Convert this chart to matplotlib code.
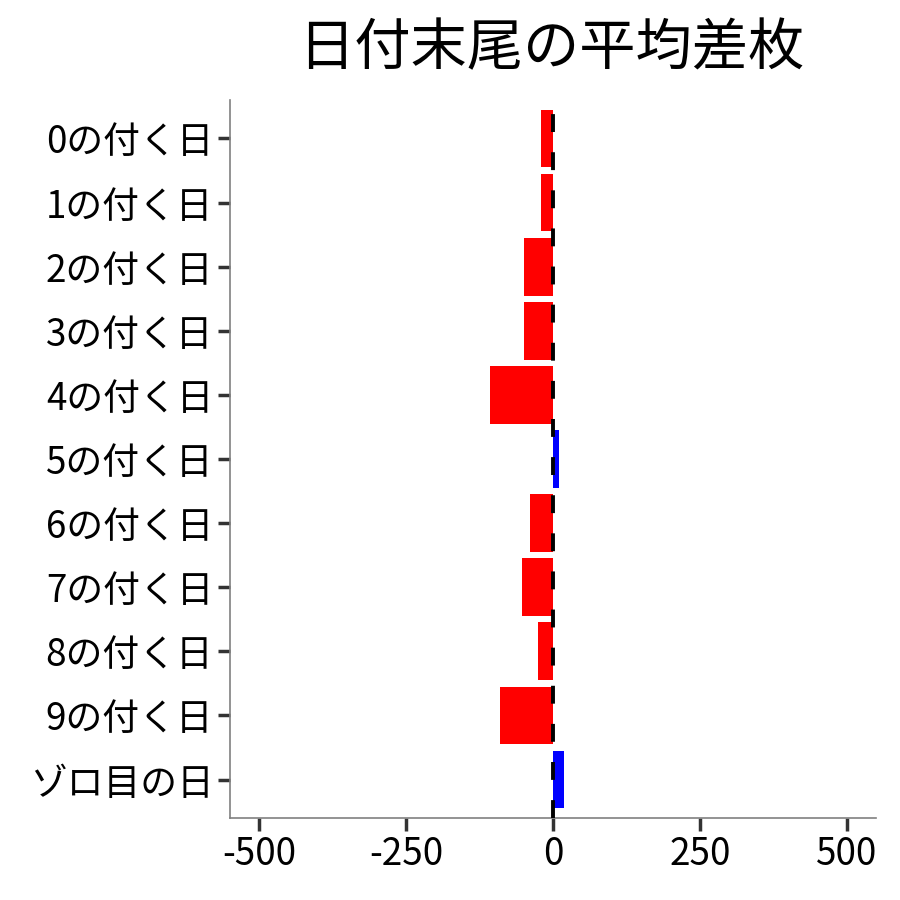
import matplotlib
matplotlib.use("Agg")
import matplotlib.pyplot as plt

plt.rcParams["font.family"] = ["Noto Sans CJK JP", "DejaVu Sans"]

categories = ["0の付く日", "1の付く日", "2の付く日", "3の付く日", "4の付く日",
              "5の付く日", "6の付く日", "7の付く日", "8の付く日", "9の付く日",
              "ゾロ目の日"]
avg_diff = [-20, -21, -50, -50, -107, 10, -40, -52, -25, -90, 19]
x_ticks = [-500, -250, 0, 250, 500]

colors = ["#0000FF" if v > 0 else "#FF0000" for v in avg_diff]
positions = list(range(len(categories)))

fig = plt.figure(figsize=(9, 9), dpi=100)
ax = fig.add_axes([0.2556, 0.0911, 0.7177, 0.7978])

ax.barh(positions, avg_diff, height=0.9, color=colors, zorder=2)
ax.axvline(0, color="black", linewidth=2.8, linestyle=(0, (4.6, 5.2)), zorder=3)

ax.set_xlim(-550, 550)
ax.set_ylim(len(categories) - 0.4, -0.6)
ax.set_xticks(x_ticks)
ax.set_xticklabels([str(t) for t in x_ticks])
ax.set_yticks(positions)
ax.set_yticklabels(categories)

for side in ["top", "right"]:
    ax.spines[side].set_visible(False)
for side in ["left", "bottom"]:
    ax.spines[side].set_color("#808080")
    ax.spines[side].set_linewidth(1.2)

ax.tick_params(axis="both", length=9, width=2.5, color="#333333",
               labelsize=26.5, labelcolor="black", pad=3)

fig.text(0.612, 0.945, "日付末尾の平均差枚", fontsize=40.5, ha="center", va="center")

fig.savefig("out.png", dpi=100)
